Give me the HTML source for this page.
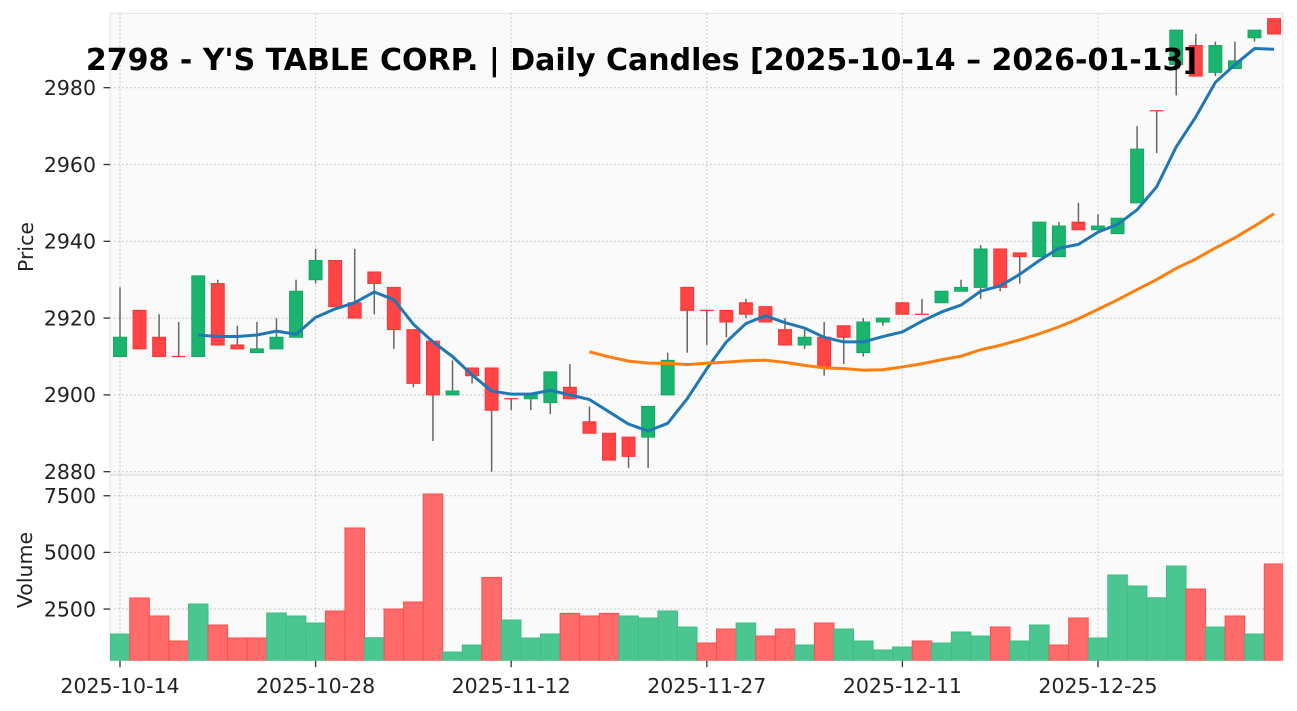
<!DOCTYPE html>
<html>
<head>
<meta charset="utf-8">
<style>
html,body{margin:0;padding:0;background:#fff;}
svg{display:block;}
text{font-family:"DejaVu Sans","Liberation Sans",sans-serif;fill:#222;}
.gr{stroke:#c2c2c2;stroke-width:1.1;stroke-dasharray:1.5 2.5;fill:none;}
.tk{stroke:#333;stroke-width:1.3;}
.w{stroke:#666;stroke-width:1.5;vector-effect:non-scaling-stroke;}
.g{fill:#19b56f;stroke:#14a862;stroke-width:1;vector-effect:non-scaling-stroke;}
.r{fill:#ff4545;stroke:#ff3434;stroke-width:1;vector-effect:non-scaling-stroke;}
.vg{fill:#4cc690;stroke:#3dbd84;stroke-width:1;vector-effect:non-scaling-stroke;}
.vr{fill:#ff6b6b;stroke:#ff4d4d;stroke-width:1;vector-effect:non-scaling-stroke;}
.ma{fill:none;stroke-width:3;vector-effect:non-scaling-stroke;stroke-linejoin:round;}
</style>
</head>
<body>
<svg width="1297" height="711" viewBox="0 0 1297 711" xmlns="http://www.w3.org/2000/svg">
<defs>
<clipPath id="cp"><rect x="110" y="13.3" width="1173" height="461.2"/></clipPath>
<clipPath id="cv"><rect x="110" y="475.3" width="1173" height="185.4"/></clipPath>
</defs>
<rect x="0" y="0" width="1297" height="711" fill="#fff"/>
<rect x="110" y="13.3" width="1173" height="461.2" fill="#fafafa" stroke="#e4e4e4" stroke-width="1"/>
<rect x="110" y="475.3" width="1173" height="185.4" fill="#fafafa" stroke="#e4e4e4" stroke-width="1"/>

<g class="gr">
<line x1="110" x2="1283" y1="471.7" y2="471.7"/>
<line x1="110" x2="1283" y1="394.9" y2="394.9"/>
<line x1="110" x2="1283" y1="318.1" y2="318.1"/>
<line x1="110" x2="1283" y1="241.3" y2="241.3"/>
<line x1="110" x2="1283" y1="164.5" y2="164.5"/>
<line x1="110" x2="1283" y1="87.7" y2="87.7"/>
<line x1="120" x2="120" y1="13.3" y2="474.5"/>
<line x1="315.6" x2="315.6" y1="13.3" y2="474.5"/>
<line x1="511.2" x2="511.2" y1="13.3" y2="474.5"/>
<line x1="706.8" x2="706.8" y1="13.3" y2="474.5"/>
<line x1="902.4" x2="902.4" y1="13.3" y2="474.5"/>
<line x1="1098" x2="1098" y1="13.3" y2="474.5"/>
<line x1="110" x2="1283" y1="609.05" y2="609.05"/>
<line x1="110" x2="1283" y1="552.4" y2="552.4"/>
<line x1="110" x2="1283" y1="495.75" y2="495.75"/>
<line x1="120" x2="120" y1="475.3" y2="660.7"/>
<line x1="315.6" x2="315.6" y1="475.3" y2="660.7"/>
<line x1="511.2" x2="511.2" y1="475.3" y2="660.7"/>
<line x1="706.8" x2="706.8" y1="475.3" y2="660.7"/>
<line x1="902.4" x2="902.4" y1="475.3" y2="660.7"/>
<line x1="1098" x2="1098" y1="475.3" y2="660.7"/>
</g>

<g clip-path="url(#cp)">
<g transform="translate(120 471.7) scale(19.56 -3.84)">
<line class="w" x1="0" x2="0" y1="30" y2="48"/><rect class="g" x="-0.33" y="30" width="0.66" height="5"/>
<line class="w" x1="1" x2="1" y1="32" y2="42"/><rect class="r" x="0.67" y="32" width="0.66" height="10"/>
<line class="w" x1="2" x2="2" y1="30" y2="41"/><rect class="r" x="1.67" y="30" width="0.66" height="5"/>
<line class="w" x1="3" x2="3" y1="30" y2="39"/><rect class="r" x="2.67" y="29.96" width="0.66" height="0.08"/>
<line class="w" x1="4" x2="4" y1="30" y2="51"/><rect class="g" x="3.67" y="30" width="0.66" height="21"/>
<line class="w" x1="5" x2="5" y1="33" y2="50"/><rect class="r" x="4.67" y="33" width="0.66" height="16"/>
<line class="w" x1="6" x2="6" y1="32" y2="38"/><rect class="r" x="5.67" y="32" width="0.66" height="1"/>
<line class="w" x1="7" x2="7" y1="31" y2="39"/><rect class="g" x="6.67" y="31" width="0.66" height="1"/>
<line class="w" x1="8" x2="8" y1="32" y2="40"/><rect class="g" x="7.67" y="32" width="0.66" height="3"/>
<line class="w" x1="9" x2="9" y1="35" y2="50"/><rect class="g" x="8.67" y="35" width="0.66" height="12"/>
<line class="w" x1="10" x2="10" y1="49" y2="58"/><rect class="g" x="9.67" y="50" width="0.66" height="5"/>
<line class="w" x1="11" x2="11" y1="43" y2="55"/><rect class="r" x="10.67" y="43" width="0.66" height="12"/>
<line class="w" x1="12" x2="12" y1="40" y2="58"/><rect class="r" x="11.67" y="40" width="0.66" height="4"/>
<line class="w" x1="13" x2="13" y1="41" y2="52"/><rect class="r" x="12.67" y="49" width="0.66" height="3"/>
<line class="w" x1="14" x2="14" y1="32" y2="48"/><rect class="r" x="13.67" y="37" width="0.66" height="11"/>
<line class="w" x1="15" x2="15" y1="22" y2="37"/><rect class="r" x="14.67" y="23" width="0.66" height="14"/>
<line class="w" x1="16" x2="16" y1="8" y2="34"/><rect class="r" x="15.67" y="20" width="0.66" height="14"/>
<line class="w" x1="17" x2="17" y1="20" y2="29"/><rect class="g" x="16.67" y="20" width="0.66" height="1"/>
<line class="w" x1="18" x2="18" y1="23" y2="27"/><rect class="r" x="17.67" y="25" width="0.66" height="2"/>
<line class="w" x1="19" x2="19" y1="0" y2="27"/><rect class="r" x="18.67" y="16" width="0.66" height="11"/>
<line class="w" x1="20" x2="20" y1="16" y2="19"/><rect class="r" x="19.67" y="18.96" width="0.66" height="0.08"/>
<line class="w" x1="21" x2="21" y1="16" y2="20"/><rect class="g" x="20.67" y="19" width="0.66" height="1"/>
<line class="w" x1="22" x2="22" y1="15" y2="26"/><rect class="g" x="21.67" y="18" width="0.66" height="8"/>
<line class="w" x1="23" x2="23" y1="19" y2="28"/><rect class="r" x="22.67" y="19" width="0.66" height="3"/>
<line class="w" x1="24" x2="24" y1="10" y2="17"/><rect class="r" x="23.67" y="10" width="0.66" height="3"/>
<line class="w" x1="25" x2="25" y1="3" y2="10"/><rect class="r" x="24.67" y="3" width="0.66" height="7"/>
<line class="w" x1="26" x2="26" y1="1" y2="9"/><rect class="r" x="25.67" y="4" width="0.66" height="5"/>
<line class="w" x1="27" x2="27" y1="1" y2="17"/><rect class="g" x="26.67" y="9" width="0.66" height="8"/>
<line class="w" x1="28" x2="28" y1="20" y2="31"/><rect class="g" x="27.67" y="20" width="0.66" height="9"/>
<line class="w" x1="29" x2="29" y1="31" y2="48"/><rect class="r" x="28.67" y="42" width="0.66" height="6"/>
<line class="w" x1="30" x2="30" y1="33" y2="42"/><rect class="r" x="29.67" y="41.96" width="0.66" height="0.08"/>
<line class="w" x1="31" x2="31" y1="35" y2="42"/><rect class="r" x="30.67" y="39" width="0.66" height="3"/>
<line class="w" x1="32" x2="32" y1="40" y2="45"/><rect class="r" x="31.67" y="41" width="0.66" height="3"/>
<line class="w" x1="33" x2="33" y1="39" y2="43"/><rect class="r" x="32.67" y="39" width="0.66" height="4"/>
<line class="w" x1="34" x2="34" y1="33" y2="40"/><rect class="r" x="33.67" y="33" width="0.66" height="4"/>
<line class="w" x1="35" x2="35" y1="32" y2="37"/><rect class="g" x="34.67" y="33" width="0.66" height="2"/>
<line class="w" x1="36" x2="36" y1="25" y2="39"/><rect class="r" x="35.67" y="27" width="0.66" height="8"/>
<line class="w" x1="37" x2="37" y1="28" y2="38"/><rect class="r" x="36.67" y="35" width="0.66" height="3"/>
<line class="w" x1="38" x2="38" y1="30" y2="40"/><rect class="g" x="37.67" y="31" width="0.66" height="8"/>
<line class="w" x1="39" x2="39" y1="38" y2="40"/><rect class="g" x="38.67" y="39" width="0.66" height="1"/>
<line class="w" x1="40" x2="40" y1="41" y2="44"/><rect class="r" x="39.67" y="41" width="0.66" height="3"/>
<line class="w" x1="41" x2="41" y1="41" y2="45"/><rect class="r" x="40.67" y="40.96" width="0.66" height="0.08"/>
<line class="w" x1="42" x2="42" y1="44" y2="47"/><rect class="g" x="41.67" y="44" width="0.66" height="3"/>
<line class="w" x1="43" x2="43" y1="47" y2="50"/><rect class="g" x="42.67" y="47" width="0.66" height="1"/>
<line class="w" x1="44" x2="44" y1="45" y2="59"/><rect class="g" x="43.67" y="48" width="0.66" height="10"/>
<line class="w" x1="45" x2="45" y1="47" y2="58"/><rect class="r" x="44.67" y="48" width="0.66" height="10"/>
<line class="w" x1="46" x2="46" y1="49" y2="57"/><rect class="r" x="45.67" y="56" width="0.66" height="1"/>
<line class="w" x1="47" x2="47" y1="56" y2="65"/><rect class="g" x="46.67" y="56" width="0.66" height="9"/>
<line class="w" x1="48" x2="48" y1="56" y2="65"/><rect class="g" x="47.67" y="56" width="0.66" height="8"/>
<line class="w" x1="49" x2="49" y1="63" y2="70"/><rect class="r" x="48.67" y="63" width="0.66" height="2"/>
<line class="w" x1="50" x2="50" y1="63" y2="67"/><rect class="g" x="49.67" y="63" width="0.66" height="1"/>
<line class="w" x1="51" x2="51" y1="62" y2="66"/><rect class="g" x="50.67" y="62" width="0.66" height="4"/>
<line class="w" x1="52" x2="52" y1="70" y2="90"/><rect class="g" x="51.67" y="70" width="0.66" height="14"/>
<line class="w" x1="53" x2="53" y1="83" y2="94"/><rect class="r" x="52.67" y="93.96" width="0.66" height="0.08"/>
<line class="w" x1="54" x2="54" y1="98" y2="115"/><rect class="g" x="53.67" y="106" width="0.66" height="9"/>
<line class="w" x1="55" x2="55" y1="103" y2="114"/><rect class="r" x="54.67" y="103" width="0.66" height="8"/>
<line class="w" x1="56" x2="56" y1="103" y2="112"/><rect class="g" x="55.67" y="104" width="0.66" height="7"/>
<line class="w" x1="57" x2="57" y1="105" y2="112"/><rect class="g" x="56.67" y="105" width="0.66" height="2"/>
<line class="w" x1="58" x2="58" y1="112" y2="115"/><rect class="g" x="57.67" y="113" width="0.66" height="2"/>
<line class="w" x1="59" x2="59" y1="114" y2="118"/><rect class="r" x="58.67" y="114" width="0.66" height="4"/>

<polyline class="ma" stroke="#1f77b4" points="4,35.6 5,35.2 6,35.2 7,35.6 8,36.6 9,35.8 10,40.2 11,42.4 12,44 13,46.8 14,44.8 15,38.4 16,33.8 17,30 18,25.2 19,21 20,20.2 21,20.2 22,21.2 23,20 24,18.8 25,15.6 26,12.4 27,10.6 28,12.6 29,19 30,26.8 31,33.8 32,38.6 33,40.6 34,38.8 35,37.4 36,35 37,33.8 38,33.8 39,35.2 40,36.4 41,39.2 42,41.6 43,43.4 44,47 45,48.4 46,51.4 47,55 48,58.2 49,59.2 50,62.4 51,64.4 52,68.2 53,74.2 54,84.6 55,92.4 56,101.4 57,106 58,110.2 59,110"/>
<polyline class="ma" stroke="#ff7f0e" points="24,31.2 25,29.92 26,28.8 27,28.28 28,28.24 29,27.88 30,28.24 31,28.52 32,28.88 33,29.04 34,28.48 35,27.68 36,27.04 37,26.84 38,26.44 39,26.56 40,27.28 41,28.12 42,29.16 43,30.08 44,31.76 45,32.92 46,34.36 47,35.92 48,37.72 49,39.84 50,42.28 51,44.76 52,47.44 53,50.04 54,52.96 55,55.4 56,58.28 57,60.92 58,63.96 59,67.2"/>
</g>
</g>

<g clip-path="url(#cv)">
<g transform="translate(120 665.7) scale(19.56 -0.02266)">
<rect class="vg" x="-0.5" y="0" width="1" height="1398"/>
<rect class="vr" x="0.5" y="0" width="1" height="2986"/>
<rect class="vr" x="1.5" y="0" width="1" height="2192"/>
<rect class="vr" x="2.5" y="0" width="1" height="1089"/>
<rect class="vg" x="3.5" y="0" width="1" height="2721"/>
<rect class="vr" x="4.5" y="0" width="1" height="1795"/>
<rect class="vr" x="5.5" y="0" width="1" height="1221"/>
<rect class="vr" x="6.5" y="0" width="1" height="1221"/>
<rect class="vg" x="7.5" y="0" width="1" height="2324"/>
<rect class="vg" x="8.5" y="0" width="1" height="2192"/>
<rect class="vg" x="9.5" y="0" width="1" height="1883"/>
<rect class="vr" x="10.5" y="0" width="1" height="2412"/>
<rect class="vr" x="11.5" y="0" width="1" height="6075"/>
<rect class="vg" x="12.5" y="0" width="1" height="1236"/>
<rect class="vr" x="13.5" y="0" width="1" height="2501"/>
<rect class="vr" x="14.5" y="0" width="1" height="2810"/>
<rect class="vr" x="15.5" y="0" width="1" height="7576"/>
<rect class="vg" x="16.5" y="0" width="1" height="605"/>
<rect class="vg" x="17.5" y="0" width="1" height="912"/>
<rect class="vr" x="18.5" y="0" width="1" height="3898"/>
<rect class="vg" x="19.5" y="0" width="1" height="2015"/>
<rect class="vg" x="20.5" y="0" width="1" height="1221"/>
<rect class="vg" x="21.5" y="0" width="1" height="1398"/>
<rect class="vr" x="22.5" y="0" width="1" height="2310"/>
<rect class="vr" x="23.5" y="0" width="1" height="2192"/>
<rect class="vr" x="24.5" y="0" width="1" height="2310"/>
<rect class="vg" x="25.5" y="0" width="1" height="2192"/>
<rect class="vg" x="26.5" y="0" width="1" height="2104"/>
<rect class="vg" x="27.5" y="0" width="1" height="2412"/>
<rect class="vg" x="28.5" y="0" width="1" height="1706"/>
<rect class="vr" x="29.5" y="0" width="1" height="1000"/>
<rect class="vr" x="30.5" y="0" width="1" height="1618"/>
<rect class="vg" x="31.5" y="0" width="1" height="1883"/>
<rect class="vr" x="32.5" y="0" width="1" height="1309"/>
<rect class="vr" x="33.5" y="0" width="1" height="1618"/>
<rect class="vg" x="34.5" y="0" width="1" height="912"/>
<rect class="vr" x="35.5" y="0" width="1" height="1883"/>
<rect class="vg" x="36.5" y="0" width="1" height="1618"/>
<rect class="vg" x="37.5" y="0" width="1" height="1089"/>
<rect class="vg" x="38.5" y="0" width="1" height="691"/>
<rect class="vg" x="39.5" y="0" width="1" height="824"/>
<rect class="vr" x="40.5" y="0" width="1" height="1089"/>
<rect class="vg" x="41.5" y="0" width="1" height="1000"/>
<rect class="vg" x="42.5" y="0" width="1" height="1486"/>
<rect class="vg" x="43.5" y="0" width="1" height="1309"/>
<rect class="vr" x="44.5" y="0" width="1" height="1706"/>
<rect class="vg" x="45.5" y="0" width="1" height="1089"/>
<rect class="vg" x="46.5" y="0" width="1" height="1795"/>
<rect class="vr" x="47.5" y="0" width="1" height="912"/>
<rect class="vr" x="48.5" y="0" width="1" height="2104"/>
<rect class="vg" x="49.5" y="0" width="1" height="1221"/>
<rect class="vg" x="50.5" y="0" width="1" height="4001"/>
<rect class="vg" x="51.5" y="0" width="1" height="3516"/>
<rect class="vg" x="52.5" y="0" width="1" height="3001"/>
<rect class="vg" x="53.5" y="0" width="1" height="4398"/>
<rect class="vr" x="54.5" y="0" width="1" height="3383"/>
<rect class="vg" x="55.5" y="0" width="1" height="1706"/>
<rect class="vr" x="56.5" y="0" width="1" height="2192"/>
<rect class="vg" x="57.5" y="0" width="1" height="1398"/>
<rect class="vr" x="58.5" y="0" width="1" height="4487"/>
</g>
</g>

<g class="tk">
<line x1="103.5" x2="110" y1="471.7" y2="471.7"/>
<line x1="103.5" x2="110" y1="394.9" y2="394.9"/>
<line x1="103.5" x2="110" y1="318.1" y2="318.1"/>
<line x1="103.5" x2="110" y1="241.3" y2="241.3"/>
<line x1="103.5" x2="110" y1="164.5" y2="164.5"/>
<line x1="103.5" x2="110" y1="87.7" y2="87.7"/>
<line x1="103.5" x2="110" y1="609.05" y2="609.05"/>
<line x1="103.5" x2="110" y1="552.4" y2="552.4"/>
<line x1="103.5" x2="110" y1="495.75" y2="495.75"/>
<line x1="120" x2="120" y1="660.7" y2="667.2"/>
<line x1="315.6" x2="315.6" y1="660.7" y2="667.2"/>
<line x1="511.2" x2="511.2" y1="660.7" y2="667.2"/>
<line x1="706.8" x2="706.8" y1="660.7" y2="667.2"/>
<line x1="902.4" x2="902.4" y1="660.7" y2="667.2"/>
<line x1="1098" x2="1098" y1="660.7" y2="667.2"/>
</g>

<g font-size="20.5" text-anchor="end">
<text x="96" y="479">2880</text>
<text x="96" y="402.2">2900</text>
<text x="96" y="325.4">2920</text>
<text x="96" y="248.6">2940</text>
<text x="96" y="171.8">2960</text>
<text x="96" y="95">2980</text>
<text x="96" y="616.3">2500</text>
<text x="96" y="559.7">5000</text>
<text x="96" y="503">7500</text>
</g>
<g font-size="20.5" text-anchor="middle">
<text x="120" y="693">2025-10-14</text>
<text x="315.6" y="693">2025-10-28</text>
<text x="511.2" y="693">2025-11-12</text>
<text x="706.8" y="693">2025-11-27</text>
<text x="902.4" y="693">2025-12-11</text>
<text x="1098" y="693">2025-12-25</text>
</g>
<text font-size="20.5" text-anchor="middle" transform="translate(33 247) rotate(-90)">Price</text>
<text font-size="20.5" text-anchor="middle" transform="translate(32 570) rotate(-90)">Volume</text>

<text x="641.5" y="70" font-size="30" font-weight="bold" text-anchor="middle" style="fill:#000">2798 - Y'S TABLE CORP. | Daily Candles [2025-10-14 – 2026-01-13]</text>
</svg>
</body>
</html>
